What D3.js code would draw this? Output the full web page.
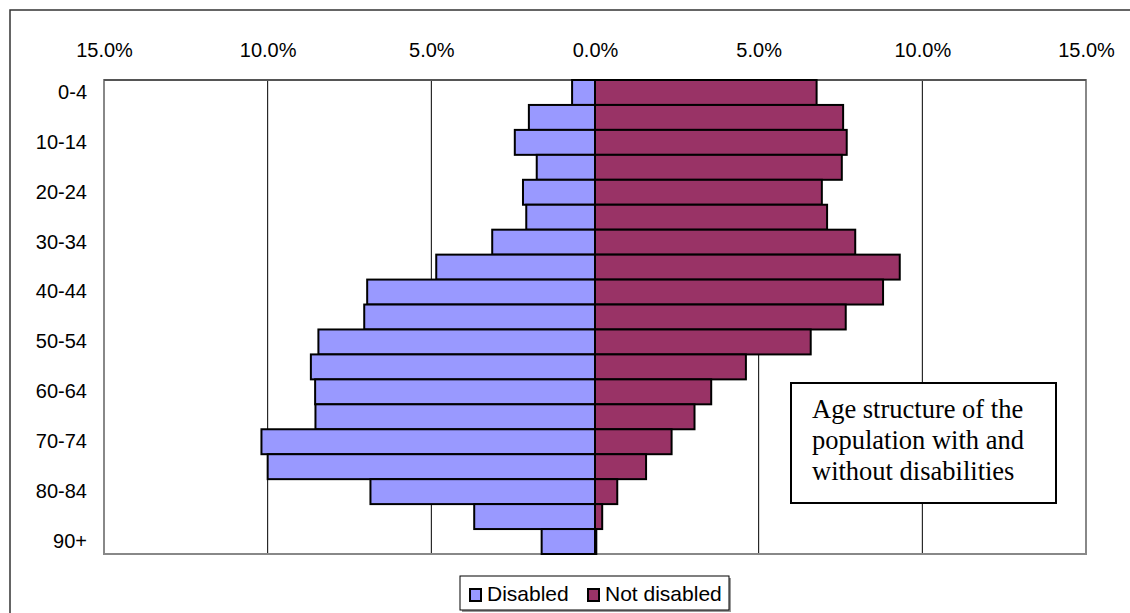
<!DOCTYPE html>
<html>
<head>
<meta charset="utf-8">
<script src="https://cdn.jsdelivr.net/npm/d3@7"></script>
<style>
  body { margin: 0; background: #fff; }
</style>
</head>
<body>
<script>
// age groups, top to bottom
var ages = ["0-4", "5-9", "10-14", "15-19", "20-24", "25-29", "30-34", "35-39", "40-44",
  "45-49", "50-54", "55-59", "60-64", "65-69", "70-74", "75-79", "80-84", "85-89", "90+"];

// share of each population in an age group, %
var disabled = [0.70, 2.02, 2.45, 1.78, 2.20, 2.10, 3.14, 4.85, 6.96, 7.05,
  8.45, 8.68, 8.55, 8.54, 10.19, 10.00, 6.86, 3.69, 1.63];
var notDisabled = [6.77, 7.58, 7.69, 7.54, 6.93, 7.09, 7.95, 9.31, 8.80, 7.66,
  6.59, 4.61, 3.55, 3.04, 2.34, 1.56, 0.68, 0.22, 0.04];

var xTicks = [-15, -10, -5, 0, 5, 10, 15];
var gridTicks = [-10, -5, 5, 10];

var sans = "'Liberation Sans', Arial, sans-serif";
var serif = "'Liberation Serif', 'Times New Roman', serif";

var svg = d3.select("body").append("svg")
  .attr("width", 1130)
  .attr("height", 613);

// outer chart border (runs off the right and bottom edge)
svg.append("rect")
  .attr("x", 10).attr("y", 10)
  .attr("width", 1140).attr("height", 620)
  .attr("fill", "#fff")
  .attr("stroke", "#333")
  .attr("stroke-width", 1.5);

var pLeft = 104, pRight = 1086, pTop = 80, pBottom = 554;

var x = d3.scaleLinear().domain([-15, 15]).range([pLeft, pRight]);
var y = d3.scaleBand().domain(ages).range([pTop, pBottom]).padding(0);

// plot area
svg.append("rect")
  .attr("x", pLeft).attr("y", pTop)
  .attr("width", pRight - pLeft).attr("height", pBottom - pTop)
  .attr("fill", "#fff")
  .attr("stroke", "#888")
  .attr("stroke-width", 2);

svg.append("line")
  .attr("x1", pLeft).attr("x2", pRight)
  .attr("y1", pTop).attr("y2", pTop)
  .attr("stroke", "#555").attr("stroke-width", 2);

svg.selectAll(".grid")
  .data(gridTicks)
  .enter().append("line")
  .attr("class", "grid")
  .attr("x1", function(d) { return x(d); })
  .attr("x2", function(d) { return x(d); })
  .attr("y1", pTop + 1).attr("y2", pBottom - 1)
  .attr("stroke", "#000")
  .attr("stroke-width", 1);

// bars
svg.selectAll(".dis")
  .data(disabled)
  .enter().append("rect")
  .attr("class", "dis")
  .attr("x", function(d) { return x(-d); })
  .attr("y", function(d, i) { return y(ages[i]); })
  .attr("width", function(d) { return x(0) - x(-d); })
  .attr("height", y.bandwidth())
  .attr("fill", "#9999ff")
  .attr("stroke", "#000")
  .attr("stroke-width", 2);

svg.selectAll(".notdis")
  .data(notDisabled)
  .enter().append("rect")
  .attr("class", "notdis")
  .attr("x", x(0))
  .attr("y", function(d, i) { return y(ages[i]); })
  .attr("width", function(d) { return x(d) - x(0); })
  .attr("height", y.bandwidth())
  .attr("fill", "#993366")
  .attr("stroke", "#000")
  .attr("stroke-width", 2);

// axes
var xAxis = d3.axisTop(x)
  .tickValues(xTicks)
  .tickSize(0)
  .tickPadding(23)
  .tickFormat(function(d) { return Math.abs(d).toFixed(1) + "%"; });

svg.append("g")
  .attr("transform", "translate(0," + pTop + ")")
  .call(xAxis)
  .call(function(g) { g.select(".domain").remove(); })
  .selectAll("text")
  .style("font-size", "20px")
  .style("font-family", sans)
  .attr("fill", "#000");

var yAxis = d3.axisLeft(y)
  .tickSize(0)
  .tickPadding(17)
  .tickFormat(function(d, i) { return i % 2 === 0 ? d : ""; });

svg.append("g")
  .attr("transform", "translate(" + pLeft + ",0)")
  .call(yAxis)
  .call(function(g) { g.select(".domain").remove(); })
  .selectAll("text")
  .style("font-size", "20px")
  .style("font-family", sans)
  .attr("fill", "#000");

// text box
svg.append("rect")
  .attr("x", 791).attr("y", 383)
  .attr("width", 265).attr("height", 120)
  .attr("fill", "#fff")
  .attr("stroke", "#000")
  .attr("stroke-width", 2);

var note = ["Age structure of the", "population with and", "without disabilities"];
svg.selectAll(".note")
  .data(note)
  .enter().append("text")
  .attr("class", "note")
  .attr("x", 812)
  .attr("y", function(d, i) { return 418 + i * 31; })
  .style("font-family", serif)
  .style("font-size", "26.5px")
  .attr("fill", "#000")
  .text(function(d) { return d; });

// legend
var legend = svg.append("g");
legend.append("rect")
  .attr("x", 462).attr("y", 578)
  .attr("width", 269).attr("height", 34)
  .attr("fill", "#999");
legend.append("rect")
  .attr("x", 460).attr("y", 576)
  .attr("width", 269).attr("height", 34)
  .attr("fill", "#fff")
  .attr("stroke", "#000")
  .attr("stroke-width", 1);

var legendItems = [
  { label: "Disabled", color: "#9999ff", x: 470 },
  { label: "Not disabled", color: "#993366", x: 588 }
];

legend.selectAll(".sw")
  .data(legendItems)
  .enter().append("rect")
  .attr("class", "sw")
  .attr("x", function(d) { return d.x; })
  .attr("y", 589)
  .attr("width", 11).attr("height", 12)
  .attr("fill", function(d) { return d.color; })
  .attr("stroke", "#000")
  .attr("stroke-width", 2);

legend.selectAll(".lt")
  .data(legendItems)
  .enter().append("text")
  .attr("class", "lt")
  .attr("x", function(d) { return d.x + 17; })
  .attr("y", 601)
  .style("font-size", "21px")
  .style("font-family", sans)
  .attr("fill", "#000")
  .text(function(d) { return d.label; });
</script>
</body>
</html>
